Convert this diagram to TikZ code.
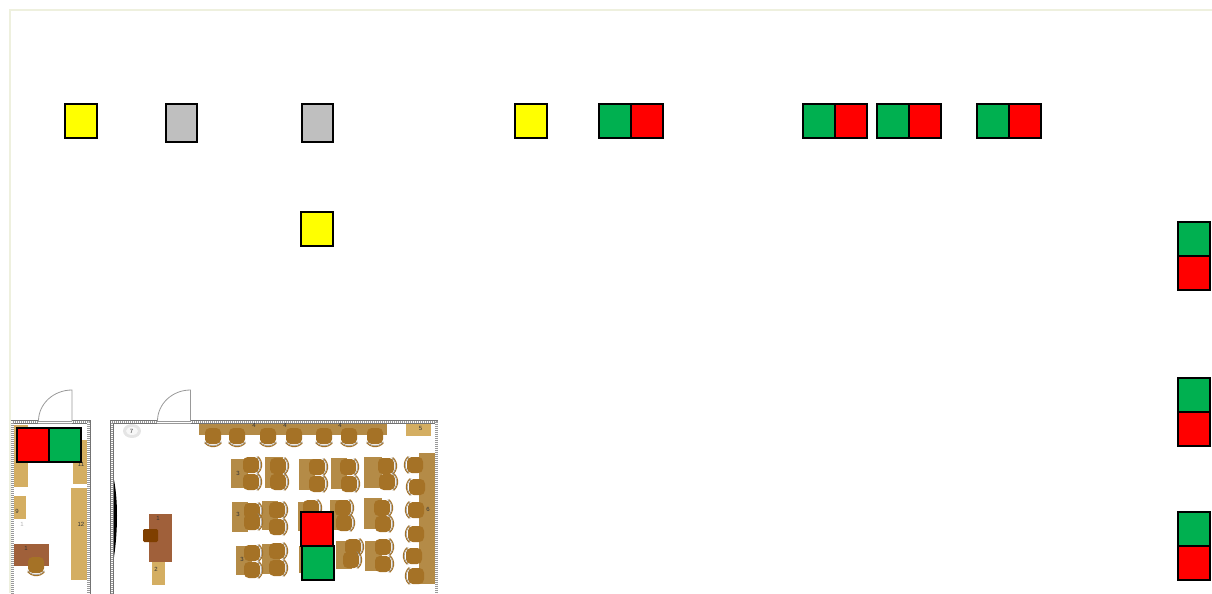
\documentclass[tikz,border=0pt]{standalone}
\usepackage{fontspec}
\setmainfont{Liberation Sans}
\usetikzlibrary{positioning}
\definecolor{softgreen}{RGB}{0,176,80}
\definecolor{softred}{RGB}{255,0,0}
\definecolor{softyellow}{RGB}{255,255,0}
\definecolor{softgray}{RGB}{191,191,191}
\definecolor{framecol}{RGB}{238,240,222}
\definecolor{wheat}{RGB}{212,174,98}
\definecolor{oak}{RGB}{180,139,71}
\definecolor{walnut}{RGB}{160,96,58}
\definecolor{umber}{RGB}{127,63,0}
\definecolor{seatcol}{RGB}{165,114,38}
\tikzset{
  cell/.style={draw=black,line width=1.5pt,inner sep=0pt,outer sep=0pt,minimum width=24pt,minimum height=25.5pt},
  greencell/.style={cell,fill=softgreen},
  redcell/.style={cell,fill=softred},
  yellowcell/.style={cell,fill=softyellow},
  graycell/.style={cell,fill=softgray,minimum width=23.25pt,minimum height=28.5pt},
  wall/.style={draw=black!55,line width=2.7pt},
  wallcore/.style={draw=white,line width=1.9pt},
  wallhatch/.style={draw=black!40,line width=1.9pt,dash pattern=on 0.75pt off 0.75pt},
  doorline/.style={draw=black!40,line width=0.6pt},
  tag/.style={font=\fontsize{4.5}{5}\selectfont,text=black!80,inner sep=0pt},
  pics/seat/.style={code={
    \fill[seatcol,rounded corners=3.5pt] (-8,-8) rectangle (8,8);
    \draw[black!45,line width=0.4pt] (5.8,-8.5) arc[start angle=-50,end angle=50,radius=11];
    \draw[seatcol,line width=0.7pt] (6.8,-8.5) arc[start angle=-50,end angle=50,radius=11];
  }}
}
\begin{document}
\begin{tikzpicture}[x=0.75pt,y=-0.75pt]
  \useasboundingbox (0,0) rectangle (1212,593);
  % sheet edge
  \draw[framecol,line width=0.9pt] (10,593) -- (10,10) -- (1212,10);

  % small room
  \foreach \s in {wall,wallcore,wallhatch}{\draw[\s] (12.5,594) -- (12.5,422) -- (88.7,422) -- (88.7,594);}
  \fill[white] (38.5,419) rectangle (72,425);
  \draw[doorline] (38,421) -- (72,421) (38,423.5) -- (72,423.5);
  \draw[doorline] (38.5,421) arc[start angle=180,end angle=270,x radius=33.5,y radius=31] -- (72,421);
  % large room
  \foreach \s in {wall,wallcore,wallhatch}{\draw[\s] (112,594) -- (112,422) -- (436.3,422) -- (436.3,594);}
  \fill[white] (157.5,419) rectangle (191,425);
  \draw[doorline] (157,421) -- (191,421) (157,423.5) -- (191,423.5);
  \draw[doorline] (157.5,421) arc[start angle=180,end angle=270,x radius=33,y radius=31] -- (190.5,421);

  % small room furniture
  \fill[wheat] (14,425) rectangle (28,487);
  \fill[wheat] (73,440) rectangle (87,484);
  \fill[wheat] (71,488) rectangle (87,580);
  \fill[wheat] (14,496) rectangle (26,519);
  \fill[walnut] (14,544) rectangle (49,566);
  \pic[rotate=-90] at (36,565) {seat};
  \node[tag] (nine) at (17,511) {9};
  \node[tag] (eleven) at (81,464) {11};
  \node[tag] (twelve) at (81,524) {12};
  \node[tag,text=black!30] (signone) at (22,524) {1};
  \node[tag] (deskone) at (26,548) {1};

  % large room furniture
  \fill[oak] (199,423.5) rectangle (387,435);
  \fill[wheat] (406,424) rectangle (431,436);
  \fill[oak] (419,453) rectangle (435,584);
  \fill[walnut] (149,514) rectangle (172,562);
  \fill[wheat] (152,562) rectangle (165,585);
  \fill[umber,rounded corners=1pt] (143,529) rectangle (158,542);
  \fill[black] (114,480) .. controls (118,500) and (118,530) .. (114,557) -- cycle;
  \fill[black!10] (132,431) ellipse (9 and 7);
  \fill[black!3] (132,431) ellipse (6 and 4);
  \foreach \x in {213,237,268,294,324,349,375}{\pic[rotate=-90] at (\x,436) {seat};}
  \foreach \xa/\ya/\xb/\yb in {231/459/248/488,265/457/283/488,299/459/315/490,331/458/347/489,364/457/382/488,
    232/502/248/532,262/501/278/530,298/502/315/531,330/500/348/530,364/498/382/529,
    236/546/252/575,262/544/280/574,299/546/315/573,336/541/352/569,365/541/382/571}{
    \fill[oak] (\xa,\ya) rectangle (\xb,\yb);
  }
  \foreach \x/\y in {251/465,251/482,278/466,278/482,317/467,317/484,348/467,349/484,386/466,387/482,
    252/511,252/522,277/510,277/527,311/508,343/508,344/523,382/508,383/524,
    252/553,252/570,277/551,277/568,353/547,351/560,383/547,383/564}{
    \pic at (\x,\y) {seat};
  }
  \foreach \x/\y in {415/465,417/487,416/510,416/534,414/556,416/576}{\pic[xscale=-1] at (\x,\y) {seat};}
  \node[tag] (tablea) at (238,473) {3};
  \node[tag] (tableb) at (238,514) {3};
  \node[tag] (tablec) at (242,559) {3};
  \node[tag] (benchl) at (254,425) {4};
  \node[tag] (benchm) at (285,425) {4};
  \node[tag] (benchr) at (340,425) {4};
  \node[tag] (shelf) at (420.5,428.5) {5};
  \node[tag] (bench) at (428,509) {6};
  \node[tag] (sign) at (131.5,431.5) {7};
  \node[tag] (desk) at (158,518) {1};
  \node[tag] (stand) at (156,569) {2};

  % top row
  \node[yellowcell] (ya) at (81,121) {};
  \node[graycell] (ga) at (181.5,123) {};
  \node[graycell] (gb) at (317.5,123) {};
  \node[yellowcell] (yb) at (531,121) {};
  \node[yellowcell] (yc) at (317,229) {};
  \foreach \n/\x in {pa/615,pb/819,pc/893,pd/993}{
    \node[greencell] (\n g) at (\x,121) {};
    \node[redcell,right=0pt of \n g] (\n r) {};
  }
  % right column
  \foreach \n/\y in {qa/239,qb/395,qc/529}{
    \node[greencell] (\n g) at (1193.5,\y) {};
    \node[redcell,below=0pt of \n g] (\n r) {};
  }
  % over the rooms
  \node[redcell] (ra) at (33,445) {};
  \node[greencell,right=0pt of ra] (ga2) {};
  \node[redcell] (rb) at (317,529) {};
  \node[greencell] (gb2) at (318,563) {};
\end{tikzpicture}
\end{document}
